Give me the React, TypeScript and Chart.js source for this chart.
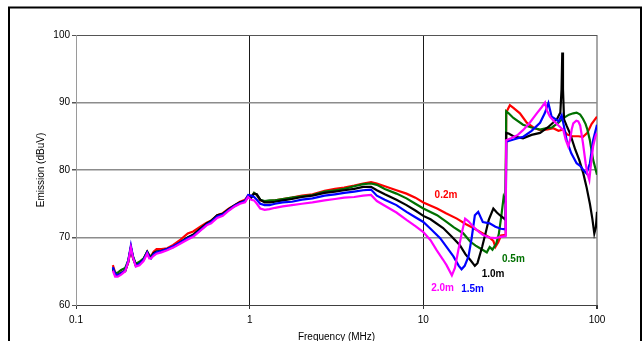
import React, { useEffect, useRef } from "react";
import { Chart, registerables } from "chart.js";

Chart.register(...registerables);

// ---------- axis definitions ----------
const X_TICKS = [0.1, 1, 10, 100];
const Y_MIN = 60;
const Y_MAX = 100;
const Y_STEP = 10;

// ---------- shared low-frequency sweep (MHz) ----------
const LOW_F = [0.163, 0.168, 0.174, 0.182, 0.192, 0.2, 0.207, 0.213, 0.221, 0.232, 0.245, 0.257, 0.264, 0.27, 0.28, 0.291, 0.31, 0.335, 0.363, 0.4, 0.44, 0.473, 0.52, 0.565, 0.6, 0.65, 0.7, 0.76, 0.82, 0.88, 0.94, 0.98, 1.02, 1.06, 1.1, 1.15, 1.22, 1.3, 1.4, 1.55, 1.75, 2.0, 2.3, 2.7, 3.1, 3.5, 4.0, 4.5, 5.0];

const RED_LOW = [65.9, 64.8, 64.5, 64.8, 65.1, 66.3, 68.4, 66.9, 65.9, 66.2, 66.8, 67.9, 67.3, 67.2, 67.9, 68.3, 68.3, 68.4, 68.9, 69.7, 70.6, 70.9, 71.6, 72.2, 72.5, 73.3, 73.6, 74.3, 74.8, 75.3, 75.6, 76.2, 76.0, 76.6, 76.3, 75.5, 75.3, 75.4, 75.5, 75.7, 75.9, 76.2, 76.4, 76.9, 77.2, 77.4, 77.7, 78.0, 78.2];
const GREEN_LOW = [65.5, 64.7, 64.8, 65.2, 65.5, 66.6, 68.5, 67.2, 66.1, 66.4, 66.9, 67.9, 67.4, 67.2, 67.7, 67.9, 68.0, 68.3, 68.6, 69.3, 70.0, 70.4, 71.3, 72.0, 72.5, 73.2, 73.5, 74.2, 74.7, 75.2, 75.4, 76.0, 75.9, 76.6, 76.3, 75.6, 75.4, 75.5, 75.5, 75.7, 75.9, 76.1, 76.3, 76.8, 77.0, 77.2, 77.6, 77.9, 78.0];
const BLACK_LOW = [65.3, 64.5, 64.4, 64.7, 65.0, 66.4, 68.5, 67.0, 65.9, 66.1, 66.7, 67.8, 67.2, 67.0, 67.7, 67.9, 68.0, 68.3, 68.6, 69.3, 70.0, 70.4, 71.3, 72.1, 72.4, 73.3, 73.5, 74.2, 74.8, 75.2, 75.4, 76.0, 75.9, 76.5, 76.4, 75.6, 75.2, 75.2, 75.3, 75.5, 75.7, 76.0, 76.2, 76.6, 76.8, 77.0, 77.2, 77.5, 77.5];
const BLUE_LOW = [65.6, 64.6, 64.4, 64.7, 65.1, 66.6, 68.8, 67.1, 65.8, 66.1, 66.7, 67.8, 67.1, 66.9, 67.5, 67.8, 68.0, 68.3, 68.7, 69.3, 69.9, 70.2, 71.1, 71.9, 72.3, 73.1, 73.4, 74.1, 74.7, 75.1, 75.4, 76.3, 76.2, 76.0, 75.6, 75.0, 74.8, 74.8, 75.0, 75.2, 75.3, 75.6, 75.8, 76.2, 76.4, 76.6, 76.8, 77.0, 77.1];
const MAGENTA_LOW = [65.1, 64.2, 64.2, 64.5, 65.0, 66.4, 68.5, 67.0, 65.7, 65.9, 66.5, 67.6, 66.9, 66.9, 67.3, 67.6, 67.8, 68.1, 68.5, 69.1, 69.7, 70.1, 71.0, 71.8, 72.1, 72.9, 73.2, 74.0, 74.6, 75.0, 75.2, 76.0, 75.6, 75.5, 75.0, 74.3, 74.1, 74.2, 74.4, 74.6, 74.8, 75.0, 75.2, 75.5, 75.7, 75.9, 76.0, 76.2, 76.3];

// ---------- high-frequency part of each series ----------
const RED_F = [5.4, 6.0, 7.0, 8.0, 9.0, 10, 12, 13.5, 15.6, 17.5, 19.4, 22, 24, 25.3, 26, 27, 28, 29.8, 30.0, 31.5, 33, 36, 39.4, 43, 47, 52, 56, 60, 64, 67, 72, 78, 83, 88, 93, 100];
const RED_DB = [78.0, 77.6, 77.0, 76.5, 75.9, 75.2, 74.3, 73.6, 72.8, 72.0, 71.4, 70.6, 70.0, 69.5, 68.6, 69.3, 70.3, 70.4, 88.5, 89.6, 89.2, 88.4, 87.0, 86.3, 85.9, 86.0, 86.2, 85.8, 86.0, 85.3, 85.0, 85.0, 84.9, 85.5, 86.8, 87.9];

const GREEN_F = [5.4, 6.0, 7.0, 8.0, 9.0, 10, 12, 13.6, 15, 17, 18.6, 20, 21.2, 22.5, 23.2, 24.1, 25, 26.3, 27.2, 28.1, 29.0, 29.5, 29.8, 30.0, 31, 33, 37.5, 42, 47, 51.3, 55, 60, 64, 69, 73, 76.3, 80, 83, 86, 88, 91, 95, 100];
const GREEN_DB = [77.8, 77.2, 76.5, 75.8, 75.0, 74.3, 73.3, 72.3, 71.5, 70.6, 69.4, 68.8, 68.4, 68.0, 67.8, 68.6, 68.2, 69.1, 70.5, 73.1, 76.0, 75.5, 75.1, 88.7, 88.4, 87.7, 86.7, 86.3, 86.0, 86.2, 86.3, 87.0, 87.7, 88.2, 88.4, 88.5, 88.2, 87.6, 86.8, 86.0, 84.4, 81.5, 79.3];

const BLACK_F = [5.4, 6.0, 7.0, 8.0, 9.0, 10, 11, 13, 14.5, 16.2, 17.5, 18.6, 19.8, 20.5, 21.8, 23.0, 23.8, 25.3, 26.5, 27.6, 29.8, 30.0, 31, 33, 37.5, 42, 47, 52, 55.8, 59, 61.5, 62.5, 63.1, 63.7, 64.6, 67, 70, 75, 79, 83.4, 87, 91, 94, 96.5, 98.5, 100];
const BLACK_DB = [77.0, 76.4, 75.6, 74.8, 74.0, 73.2, 72.7, 71.4, 70.2, 68.9, 67.5, 66.7, 65.8, 66.2, 68.6, 71.0, 72.6, 74.3, 73.7, 73.3, 72.6, 85.5, 85.4, 85.0, 84.7, 85.2, 85.5, 86.3, 87.0, 87.6, 88.5, 92.0, 97.4, 92.0, 87.5, 86.5, 85.4, 83.0, 81.5, 79.5, 77.5, 75.0, 72.8, 70.6, 71.5, 73.8];

const BLUE_F = [5.4, 6.0, 7.0, 8.0, 9.0, 10, 11, 12.5, 13.7, 14.9, 16.0, 16.6, 17.3, 18.2, 19.0, 19.8, 20.7, 22.0, 24.1, 26, 28, 29.8, 30.0, 32, 35, 37.5, 42, 47, 50, 52.5, 54.8, 58, 60, 62.6, 64.5, 66.9, 71, 76.3, 80, 83.4, 87, 91, 95, 100];
const BLUE_DB = [76.2, 75.6, 74.8, 73.8, 73.0, 72.3, 71.3, 69.9, 68.5, 67.2, 65.8, 65.3, 65.8, 67.2, 70.0, 73.3, 73.8, 72.3, 72.1, 71.6, 71.3, 71.2, 84.2, 84.4, 84.7, 84.9, 85.8, 87.0, 88.4, 89.9, 87.9, 87.5, 87.2, 88.1, 86.5, 84.4, 82.5, 81.0, 80.6, 80.0, 79.5, 81.0, 84.4, 86.7];

const MAGENTA_F = [5.4, 6.0, 7.0, 8.0, 9.0, 10, 11, 11.95, 13.0, 13.6, 14.6, 15.2, 15.9, 16.7, 17.4, 18.2, 19.4, 21, 22, 24, 26, 28, 29.8, 30.0, 32, 35, 37.5, 41, 45, 48, 50.2, 51.5, 53.6, 56.7, 60, 64, 66, 68.3, 70, 71.5, 73, 76, 78, 80, 83, 86, 88, 90.3, 92, 95, 98, 100];
const MAGENTA_DB = [75.4, 74.7, 73.7, 72.6, 71.7, 70.8, 69.6, 68.1, 66.7, 65.9, 64.4, 65.5, 68.1, 70.8, 72.8, 72.4, 71.6, 70.8, 70.4, 70.0, 69.9, 70.1, 70.2, 84.4, 84.7, 85.2, 85.9, 87.0, 88.4, 89.3, 90.0, 88.8, 87.9, 87.2, 86.6, 85.9, 84.5, 83.5, 84.5, 86.0, 86.9, 87.3, 87.2, 86.6, 84.0, 81.0, 79.5, 78.5, 80.5, 83.5, 85.0, 85.5];

// ---------- series labels ----------
const SERIES_NAMES = ["0.2m", "0.5m", "1.0m", "1.5m", "2.0m"];
const SERIES_COLORS = ["#ff0000", "#007000", "#000000", "#0000ff", "#ff00ff"];
const LABEL_F = [13.5, 33.0, 25.2, 19.2, 12.9];
const LABEL_DB = [76.2, 66.8, 64.6, 62.4, 62.5];

const FONT = "'Liberation Sans', Arial, Helvetica, sans-serif";

function toPoints(lowVals: number[], hiF: number[], hiDb: number[]) {
  const pts = LOW_F.map((f, i) => ({ x: f, y: lowVals[i] }));
  hiF.forEach((f, i) => pts.push({ x: f, y: hiDb[i] }));
  return pts;
}

export default function App() {
  const ref = useRef<HTMLCanvasElement>(null);

  useEffect(() => {
    const canvas = ref.current;
    if (!canvas) return;

    const seriesData = [
      toPoints(RED_LOW, RED_F, RED_DB),
      toPoints(GREEN_LOW, GREEN_F, GREEN_DB),
      toPoints(BLACK_LOW, BLACK_F, BLACK_DB),
      toPoints(BLUE_LOW, BLUE_F, BLUE_DB),
      toPoints(MAGENTA_LOW, MAGENTA_F, MAGENTA_DB),
    ];

    // later in list = drawn first (below); reverse so magenta ends on top
    const datasets = seriesData
      .map((data, i) => ({
        label: SERIES_NAMES[i],
        data,
        borderColor: SERIES_COLORS[i],
        backgroundColor: SERIES_COLORS[i],
        borderWidth: 2.2,
        pointRadius: 0,
        tension: 0,
        fill: false,
      }))
      .reverse();

    const framePlugin = {
      id: "frame",
      beforeDraw(chart: any) {
        const c = chart.ctx;
        c.save();
        c.fillStyle = "#ffffff";
        c.fillRect(0, 0, chart.width, chart.height);
        c.strokeStyle = "#000000";
        c.lineWidth = 2;
        c.strokeRect(9, 7.5, 632, 400);
        c.restore();
      },
    };

    const labelPlugin = {
      id: "seriesLabels",
      afterDatasetsDraw(chart: any) {
        const c = chart.ctx;
        const xs = chart.scales.x;
        const ys = chart.scales.y;
        c.save();
        c.font = `bold 10px ${FONT}`;
        c.textAlign = "center";
        c.textBaseline = "middle";
        SERIES_NAMES.forEach((name, i) => {
          c.fillStyle = SERIES_COLORS[i];
          c.fillText(name, xs.getPixelForValue(LABEL_F[i]), ys.getPixelForValue(LABEL_DB[i]));
        });
        c.restore();
      },
    };

    const chart = new Chart(canvas, {
      type: "line",
      data: { datasets },
      options: {
        responsive: false,
        animation: false,
        devicePixelRatio: 1,
        layout: { padding: { top: 35, right: 47, left: 0, bottom: 0 } },
        plugins: {
          legend: { display: false },
          tooltip: { enabled: false },
        },
        scales: {
          x: {
            type: "logarithmic",
            min: 0.1,
            max: 100,
            afterBuildTicks: (scale: any) => {
              scale.ticks = X_TICKS.map((v) => ({ value: v }));
            },
            afterFit: (scale: any) => {
              scale.height = 45;
            },
            ticks: {
              autoSkip: false,
              maxRotation: 0,
              padding: 5,
              color: "#000",
              font: { family: FONT, size: 10 },
              callback: (v: any) => String(v),
            },
            grid: {
              drawTicks: true,
              tickLength: 4,
              color: (ctx: any) => {
                const v = ctx.tick ? ctx.tick.value : 0;
                if (v === 0.1) return "#9a9a9a";
                if (v === 100) return "#a8a8a8";
                return "#1a1a1a";
              },
              lineWidth: (ctx: any) => (ctx.tick && ctx.tick.value === 100 ? 2 : 1),
              tickColor: "#333333",
            },
            border: { display: true, color: "#404040", width: 1 },
            title: {
              display: true,
              text: "Frequency (MHz)",
              color: "#000",
              font: { family: FONT, size: 10 },
              padding: { top: 0, bottom: 7 },
            },
          },
          y: {
            type: "linear",
            min: Y_MIN,
            max: Y_MAX,
            afterFit: (scale: any) => {
              scale.width = 76;
            },
            ticks: {
              stepSize: Y_STEP,
              padding: 2,
              color: "#000",
              font: { family: FONT, size: 10 },
            },
            grid: {
              tickLength: 4,
              color: (ctx: any) => {
                const v = ctx.tick ? ctx.tick.value : 0;
                if (v === 60) return "#404040";
                if (v === 100) return "#555555";
                return "#8c8c8c";
              },
              lineWidth: (ctx: any) => {
                const v = ctx.tick ? ctx.tick.value : 0;
                return v === 60 || v === 100 ? 1 : 1.5;
              },
              tickColor: "#555555",
            },
            border: { display: true, color: "#9a9a9a", width: 1 },
            title: {
              display: true,
              text: "Emission (dBuV)",
              color: "#000",
              font: { family: FONT, size: 10 },
              padding: { top: 35, bottom: 0 },
            },
          },
        },
      },
      plugins: [framePlugin, labelPlugin],
    } as any);

    return () => chart.destroy();
  }, []);

  return (
    <div
      style={{
        position: "fixed",
        left: 0,
        top: 0,
        width: 644,
        height: 341,
        overflow: "hidden",
        background: "#fff",
      }}
    >
      <canvas ref={ref} width={644} height={350} style={{ display: "block", width: 644, height: 350 }} />
    </div>
  );
}
